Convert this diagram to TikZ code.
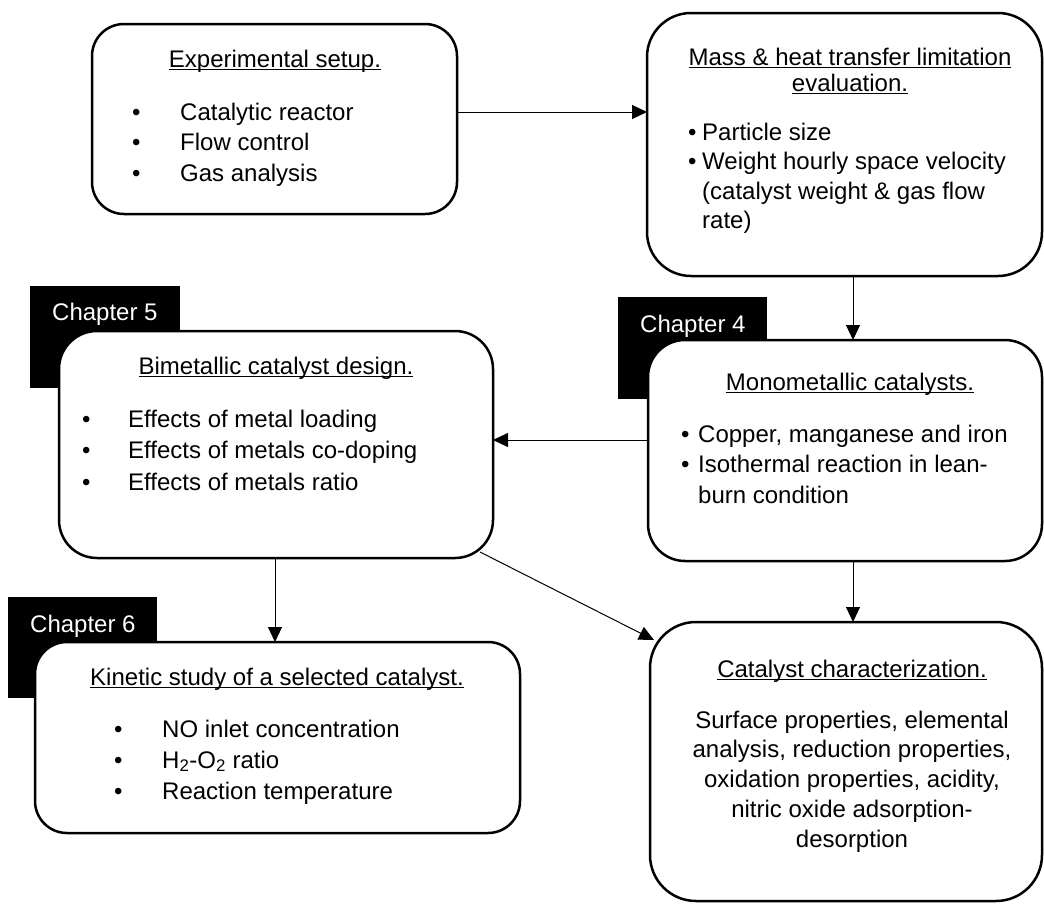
\documentclass[tikz,border=0pt]{standalone}
\usepackage{fontspec}
\setmainfont{Liberation Sans}
\usetikzlibrary{arrows.meta}
\newsavebox\ulbox
\newcommand{\myul}[1]{\sbox\ulbox{#1}\rlap{\rule[-3pt]{\wd\ulbox}{1.3pt}}\usebox\ulbox}
\newcommand{\bodyfont}{\fontsize{24}{30}\selectfont}
\tikzset{
  box/.style={draw, line width=2.5pt, fill=white, rounded corners=#1, inner sep=0pt, outer sep=0pt},
  tabbox/.style={fill=black, inner sep=0pt, outer sep=0pt},
  tablabel/.style={anchor=base west, text=white, inner sep=0pt},
  ttl/.style={anchor=base, inner sep=0pt},
  lst/.style={anchor=base west, inner sep=0pt},
  arr/.style={line width=1pt, -{Triangle[length=15pt,width=14pt]}},
}
\begin{document}
\begin{tikzpicture}[x=1pt, y=-1pt, font=\bodyfont]
\useasboundingbox (0,0) rectangle (1044,903);
% chapter tabs
\node[tabbox, minimum width=150pt, minimum height=102pt] (t5) at (105,337) {};
\node[tabbox, minimum width=149pt, minimum height=102pt] (t4) at (692.5,348) {};
\node[tabbox, minimum width=149pt, minimum height=101pt] (t6) at (82.5,647.5) {};
\node[tablabel] (t5l) at (52,320) {Chapter 5};
\node[tablabel] (t4l) at (640,332) {Chapter 4};
\node[tablabel] (t6l) at (30,632) {Chapter 6};
% boxes
\node[box=32pt, minimum width=365pt, minimum height=190pt] (b1) at (274.5,119) {};
\node[box=44pt, minimum width=395pt, minimum height=263pt] (b2) at (844.5,144.5) {};
\node[box=38pt, minimum width=434pt, minimum height=227pt] (b3) at (276,444.5) {};
\node[box=37pt, minimum width=394pt, minimum height=221pt] (b4) at (845,450.5) {};
\node[box=32pt, minimum width=485pt, minimum height=191pt] (b5) at (277.5,737.5) {};
\node[box=46pt, minimum width=392pt, minimum height=279pt] (b6) at (846,761.5) {};
% titles
\node[ttl] (b1t) at (275,67) {\myul{Experimental setup.}};
\node[ttl] (b2t) at (850,65) {\myul{Mass \& heat transfer limitation}};
\node[ttl] (b2u) at (850,91) {\myul{evaluation.}};
\node[ttl] (b3t) at (276,374) {\myul{Bimetallic catalyst design.}};
\node[ttl] (b4t) at (850,390) {\myul{Monometallic catalysts.}};
\node[ttl] (b5t) at (277,685) {\myul{Kinetic study of a selected catalyst.}};
\node[ttl] (b6t) at (852,677) {\myul{Catalyst characterization.}};
% lists
\node[lst] (b1l) at (132,120) {\fontsize{24}{30.5}\selectfont\begin{tabular}[t]{@{}p{48pt}@{}l@{}}
• & Catalytic reactor\\ • & Flow control\\ • & Gas analysis\end{tabular}};
\node[lst] (b2l) at (688,140) {\fontsize{24}{29.5}\selectfont\begin{tabular}[t]{@{}p{14pt}@{}l@{}}
• & Particle size\\ • & Weight hourly space velocity\\ & (catalyst weight \& gas flow\\ & rate)\end{tabular}};
\node[lst] (b3l) at (82,427) {\fontsize{24}{31.5}\selectfont\begin{tabular}[t]{@{}p{46pt}@{}l@{}}
• & Effects of metal loading\\ • & Effects of metals co-doping\\ • & Effects of metals ratio\end{tabular}};
\node[lst] (b4l) at (681,442) {\fontsize{24}{30.5}\selectfont\begin{tabular}[t]{@{}p{17pt}@{}l@{}}
• & Copper, manganese and iron\\ • & Isothermal reaction in lean-\\ & burn condition\end{tabular}};
\node[lst] (b5l) at (114,737) {\fontsize{24}{31}\selectfont\begin{tabular}[t]{@{}p{48pt}@{}l@{}}
• & NO inlet concentration\\ • & H\textsubscript{2}-O\textsubscript{2} ratio\\ • & Reaction temperature\end{tabular}};
\node[ttl] (b6l) at (852,728) {\fontsize{24}{29.75}\selectfont\begin{tabular}[t]{@{}c@{}}
Surface properties, elemental\\ analysis, reduction properties,\\ oxidation properties, acidity,\\ nitric oxide adsorption-\\ desorption\end{tabular}};
% connector guides
\coordinate (y112) at (0,112);
\coordinate (y440) at (0,440);
\coordinate (x853) at (853,0);
\coordinate (x275) at (275,0);
\coordinate (s36) at (480,552);
\coordinate (e36) at (654,640);
% connectors
\draw[arr] (b1.east |- y112) -- (b2.west |- y112);
\draw[arr] (b2.south -| x853) -- (b4.north -| x853);
\draw[arr] (b4.west |- y440) -- (b3.east |- y440);
\draw[arr] (b3.south -| x275) -- (b5.north -| x275);
\draw[arr] (b4.south -| x853) -- (b6.north -| x853);
\draw[arr] (s36) -- (e36);
\end{tikzpicture}
\end{document}
